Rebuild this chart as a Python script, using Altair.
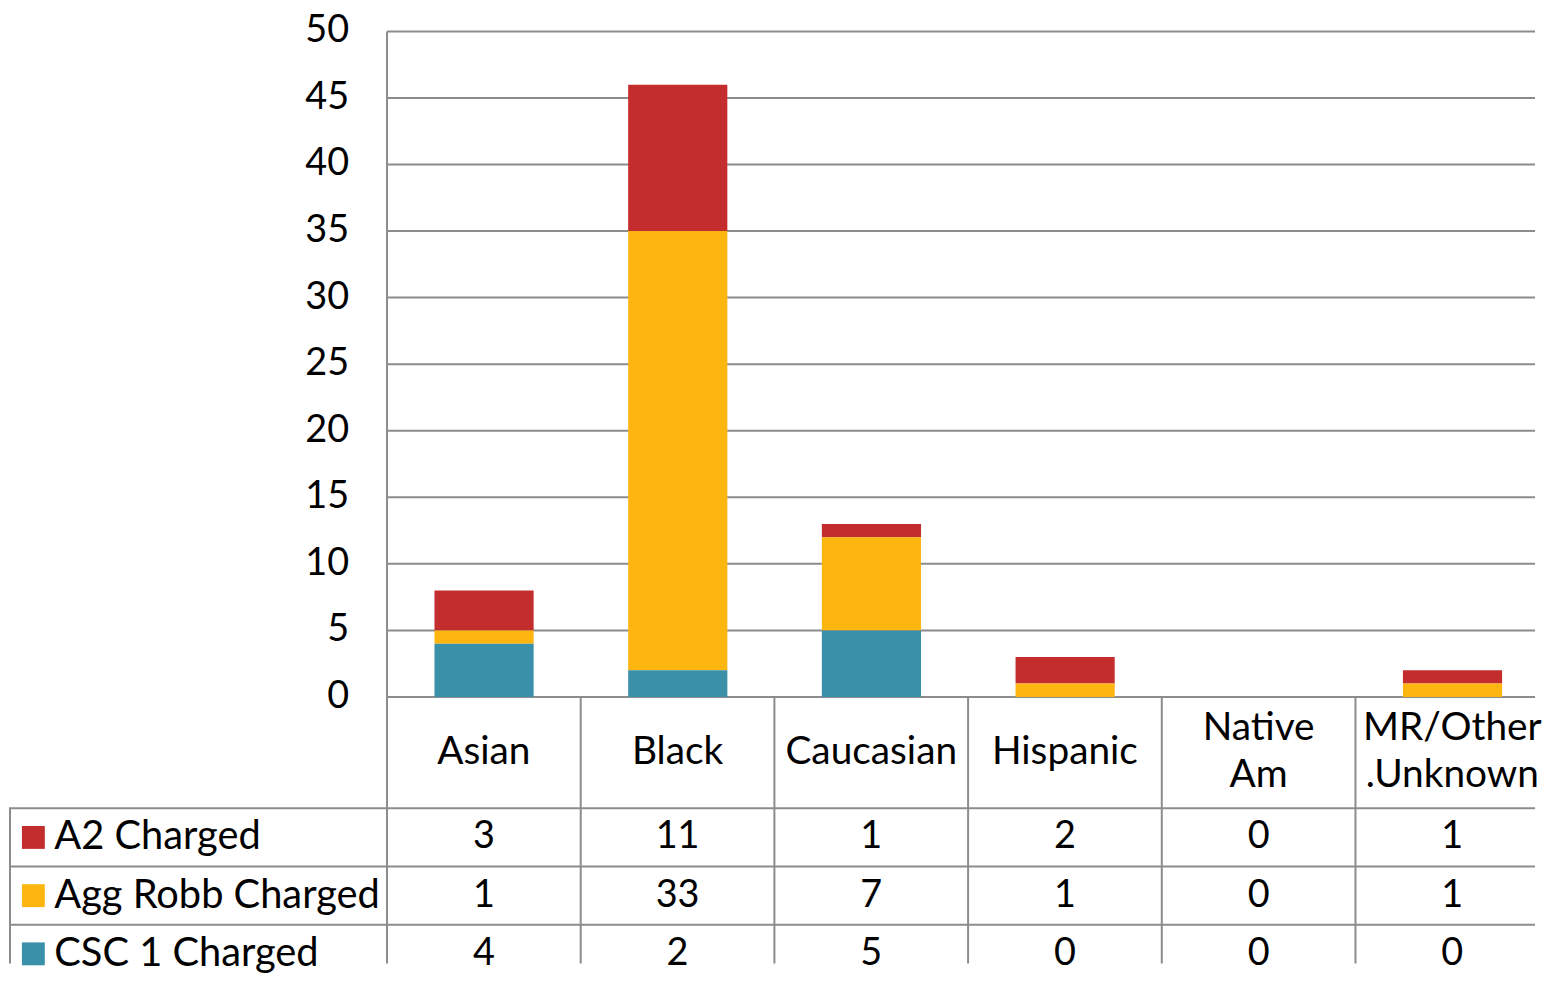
import altair as alt
import pandas as pd

# ---- data ----
categories = ["Asian", "Black", "Caucasian", "Hispanic", "Native Am", "MR/Other .Unknown"]
header_labels = ["Asian", "Black", "Caucasian", "Hispanic", "Native\nAm", "MR/Other\n.Unknown"]
series = ["A2 Charged", "Agg Robb Charged", "CSC 1 Charged"]
a2_charged = [3, 11, 1, 2, 0, 1]
agg_robb_charged = [1, 33, 7, 1, 0, 1]
csc1_charged = [4, 2, 5, 0, 0, 0]
y_ticks = [0, 5, 10, 15, 20, 25, 30, 35, 40, 45, 50]

colors = ["#C32D2E", "#FDB60F", "#3A90A8"]
FONT = "Lato"
FS_NUM = 38
FS_TXT = 39
FS_LEG = 40
GRID = "#8C8C8C"

# ---- layout (column units for x) ----
COLPX = 194.7
W = 1534
XMIN = -380 / COLPX
XMAX = (W - 380) / COLPX
TOP_H = 690
BOT_H = 268
YMAX = TOP_H / 13.38
RH = 58.5
HDR = 112 / RH
YB_MAX = BOT_H / RH

xs = alt.Scale(domain=[XMIN, XMAX], nice=False, zero=False)
ys = alt.Scale(domain=[0, YMAX], nice=False, zero=False)
yb = alt.Scale(domain=[0, YB_MAX], nice=False, zero=False, reverse=True)

# ---- bar data ----
rows = []
series_vals = {"A2 Charged": a2_charged, "Agg Robb Charged": agg_robb_charged, "CSC 1 Charged": csc1_charged}
stack_order = {"CSC 1 Charged": 0, "Agg Robb Charged": 1, "A2 Charged": 2}
for i, c in enumerate(categories):
    for s in series:
        rows.append({"cat": c, "idx": i, "series": s, "value": series_vals[s][i], "order": stack_order[s]})
bars_df = pd.DataFrame(rows)

bars = alt.Chart(bars_df).transform_stack(
    stack="value", groupby=["cat"], as_=["v0", "v1"], sort=[alt.SortField("order")]
).transform_calculate(
    xa="datum.idx + 0.245", xb="datum.idx + 0.757"
).mark_bar(stroke=None).encode(
    x=alt.X("xa:Q", scale=xs, axis=None),
    x2="xb:Q",
    y=alt.Y("v0:Q", scale=ys, axis=None),
    y2="v1:Q",
    color=alt.Color("series:N", scale=alt.Scale(domain=series, range=colors), legend=None),
)

grid_df = pd.DataFrame({"v": y_ticks, "x0": [0] * len(y_ticks), "x1": [XMAX] * len(y_ticks)})
grid = alt.Chart(grid_df).mark_rule(color=GRID, strokeWidth=2).encode(
    x=alt.X("x0:Q", scale=xs, axis=None), x2="x1:Q", y=alt.Y("v:Q", scale=ys, axis=None)
)
vline_top = alt.Chart(pd.DataFrame({"x": [0], "y0": [0], "y1": [50]})).mark_rule(color=GRID, strokeWidth=2).encode(
    x=alt.X("x:Q", scale=xs, axis=None), y=alt.Y("y0:Q", scale=ys, axis=None), y2="y1:Q"
)
ylabels = alt.Chart(grid_df).mark_text(
    align="right", baseline="middle", dx=-38, font=FONT, fontSize=FS_NUM, color="black"
).encode(
    x=alt.X("x0:Q", scale=xs, axis=None), y=alt.Y("v:Q", scale=ys, axis=None), text="v:Q"
)

top = alt.layer(grid, vline_top, bars, ylabels).properties(width=W, height=TOP_H)

# ---- table ----
hdr_df = pd.DataFrame({
    "xc": [i + 0.5 for i in range(len(categories))],
    "lab": header_labels,
    "y": [(55 - 24 * lab.count("\n")) / RH for lab in header_labels],
})
hdr_text = alt.Chart(hdr_df).mark_text(
    align="center", baseline="middle", font=FONT, fontSize=FS_TXT, lineBreak="\n", lineHeight=48, color="black"
).encode(x=alt.X("xc:Q", scale=xs, axis=None), y=alt.Y("y:Q", scale=yb, axis=None), text="lab:N")

cell_rows = []
for r, s in enumerate(series):
    for i, c in enumerate(categories):
        cell_rows.append({"xc": i + 0.5, "yc": HDR + r + 0.5, "val": series_vals[s][i]})
cells_df = pd.DataFrame(cell_rows)
cells = alt.Chart(cells_df).mark_text(
    align="center", baseline="middle", font=FONT, fontSize=FS_NUM, color="black"
).encode(x=alt.X("xc:Q", scale=xs, axis=None), y=alt.Y("yc:Q", scale=yb, axis=None), text="val:Q")

leg_df = pd.DataFrame({"series": series, "yc": [HDR + r + 0.5 for r in range(3)],
                       "xs": [XMIN + 24.5 / COLPX] * 3, "xt": [XMIN + 45.5 / COLPX] * 3})
leg_sq = alt.Chart(leg_df).mark_square(size=23 * 23, opacity=1).encode(
    x=alt.X("xs:Q", scale=xs, axis=None), y=alt.Y("yc:Q", scale=yb, axis=None),
    color=alt.Color("series:N", scale=alt.Scale(domain=series, range=colors), legend=None)
)
leg_tx = alt.Chart(leg_df).mark_text(
    align="left", baseline="middle", font=FONT, fontSize=FS_LEG, color="black"
).encode(x=alt.X("xt:Q", scale=xs, axis=None), y=alt.Y("yc:Q", scale=yb, axis=None), text="series:N")

hl_df = pd.DataFrame({"y": [HDR, HDR + 1, HDR + 2], "x0": [XMIN] * 3, "x1": [XMAX] * 3})
hlines = alt.Chart(hl_df).mark_rule(color=GRID, strokeWidth=2).encode(
    x=alt.X("x0:Q", scale=xs, axis=None), x2="x1:Q", y=alt.Y("y:Q", scale=yb, axis=None)
)
vl_df = pd.DataFrame({"x": [XMIN + 1 / COLPX] + list(range(len(categories))),
                      "y0": [HDR] + [0] * len(categories),
                      "y1": [YB_MAX] * (len(categories) + 1)})
vlines = alt.Chart(vl_df).mark_rule(color=GRID, strokeWidth=2).encode(
    x=alt.X("x:Q", scale=xs, axis=None), y=alt.Y("y0:Q", scale=yb, axis=None), y2="y1:Q"
)

bottom = alt.layer(hlines, vlines, hdr_text, cells, leg_sq, leg_tx).properties(width=W, height=BOT_H)

chart = alt.vconcat(top, bottom, spacing=0, bounds="flush").properties(
    padding=0, background="white"
).configure_view(stroke=None).configure_concat(spacing=0)

chart.save("out.html", embed_options={"renderer": "svg", "actions": False})
